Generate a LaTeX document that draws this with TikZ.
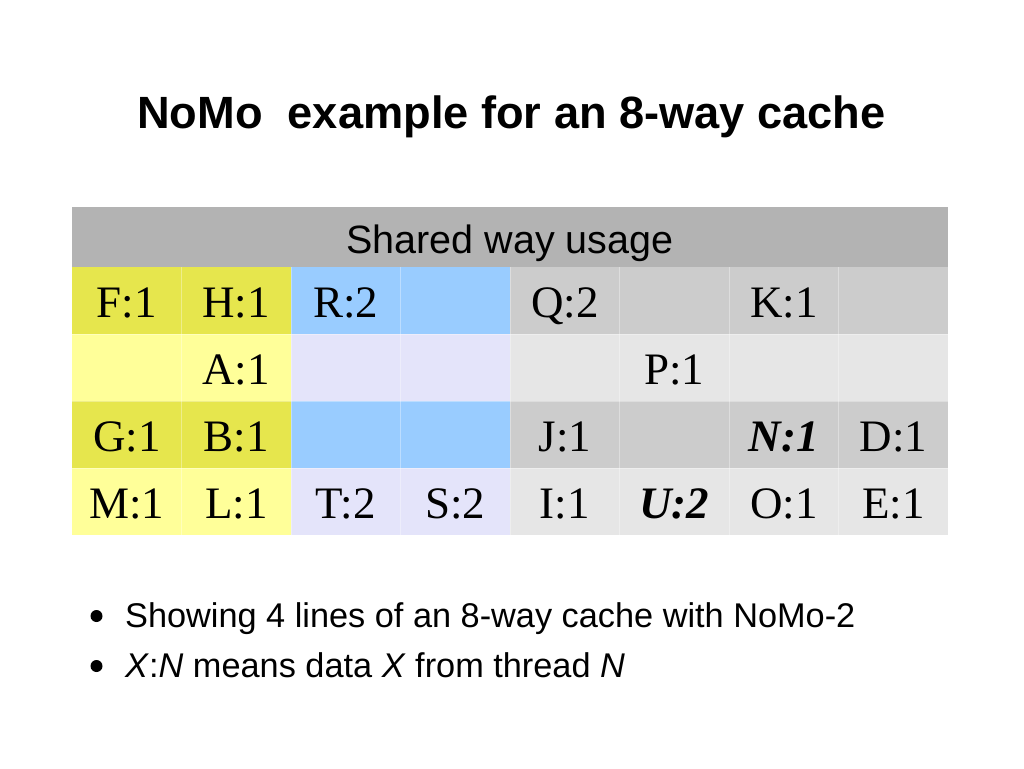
\documentclass[tikz,border=0pt]{standalone}
\usepackage{fontspec}
\setmainfont{Liberation Serif}
\setsansfont{Liberation Sans}
\definecolor{cOlive}{HTML}{E6E64D}
\definecolor{cLemon}{HTML}{FFFF99}
\definecolor{cBlue}{HTML}{99CCFF}
\definecolor{cLav}{HTML}{E4E4FA}
\definecolor{cGray}{HTML}{CCCCCC}
\definecolor{cLight}{HTML}{E6E6E6}
\definecolor{cHead}{HTML}{B3B3B3}
\tikzset{
  celltext/.style={font=\fontsize{45}{54}\selectfont, anchor=base, inner sep=0pt},
  bullettext/.style={font=\sffamily\fontsize{34.3}{40}\selectfont, anchor=base west, inner sep=0pt},
  sep/.style={draw=white, draw opacity=0.35, line width=1pt},
  bulletdot/.style={circle, fill=black, inner sep=0pt, minimum size=12pt}
}
\begin{document}
\begin{tikzpicture}[x=1pt,y=-1pt]
\useasboundingbox[fill=white] (0,0) rectangle (1024,768);
% title
\node[font=\sffamily\bfseries\fontsize{45.2}{54}\selectfont, anchor=base, inner sep=0pt] (title) at (511.5,128) {NoMo\ \ example for an 8-way cache};
% header
\fill[cHead] (72,207) rectangle (948,267);
\node[font=\sffamily\fontsize{39.5}{46}\selectfont, anchor=base, inner sep=0pt] (head) at (510,253) {Shared way usage};
% body fills
\foreach \r/\y in {1/267,3/401}{
  \fill[cOlive] (72,\y) rectangle (291,\y+67);
  \fill[cBlue] (291,\y) rectangle (510,\y+67);
  \fill[cGray] (510,\y) rectangle (948,\y+67);
}
\foreach \r/\y in {2/334,4/468}{
  \fill[cLemon] (72,\y) rectangle (291,\y+67);
  \fill[cLav] (291,\y) rectangle (510,\y+67);
  \fill[cLight] (510,\y) rectangle (948,\y+67);
}
% faint cell separators
\foreach \x in {181.5,291,400.5,510,619.5,729,838.5}{
  \draw[sep] (\x,267) -- (\x,535);
}
\foreach \y in {334,401,468}{
  \draw[sep] (72,\y) -- (948,\y);
}
% row 1
\node[celltext] (c11) at (126.75,317) {F:1};
\node[celltext] (c12) at (236.25,317) {H:1};
\node[celltext] (c13) at (345.75,317) {R:2};
\node[celltext] (c15) at (564.75,317) {Q:2};
\node[celltext] (c17) at (783.75,317) {K:1};
% row 2
\node[celltext] (c22) at (236.25,384) {A:1};
\node[celltext] (c26) at (674.25,384) {P:1};
% row 3
\node[celltext] (c31) at (126.75,451) {G:1};
\node[celltext] (c32) at (236.25,451) {B:1};
\node[celltext] (c35) at (564.75,451) {J:1};
\node[celltext] (c37) at (783.75,451) {\textbf{\textit{N:1}}};
\node[celltext] (c38) at (893.25,451) {D:1};
% row 4
\node[celltext] (c41) at (126.75,518) {M:1};
\node[celltext] (c42) at (236.25,518) {L:1};
\node[celltext] (c43) at (345.75,518) {T:2};
\node[celltext] (c44) at (455.25,518) {S:2};
\node[celltext] (c45) at (564.75,518) {I:1};
\node[celltext] (c46) at (674.25,518) {\textbf{\textit{U:2}}};
\node[celltext] (c47) at (783.75,518) {O:1};
\node[celltext] (c48) at (893.25,518) {E:1};
% bullets
\node[bulletdot] (d1) at (96.5,616) {};
\node[bullettext] (b1) at (125,627) {Showing 4 lines of an 8-way cache with NoMo-2};
\node[bulletdot] (d2) at (96.5,666) {};
\node[bullettext] (b2) at (125,677) {\textit{X}:\textit{N} means data \textit{X} from thread \textit{N}};
\end{tikzpicture}
\end{document}
